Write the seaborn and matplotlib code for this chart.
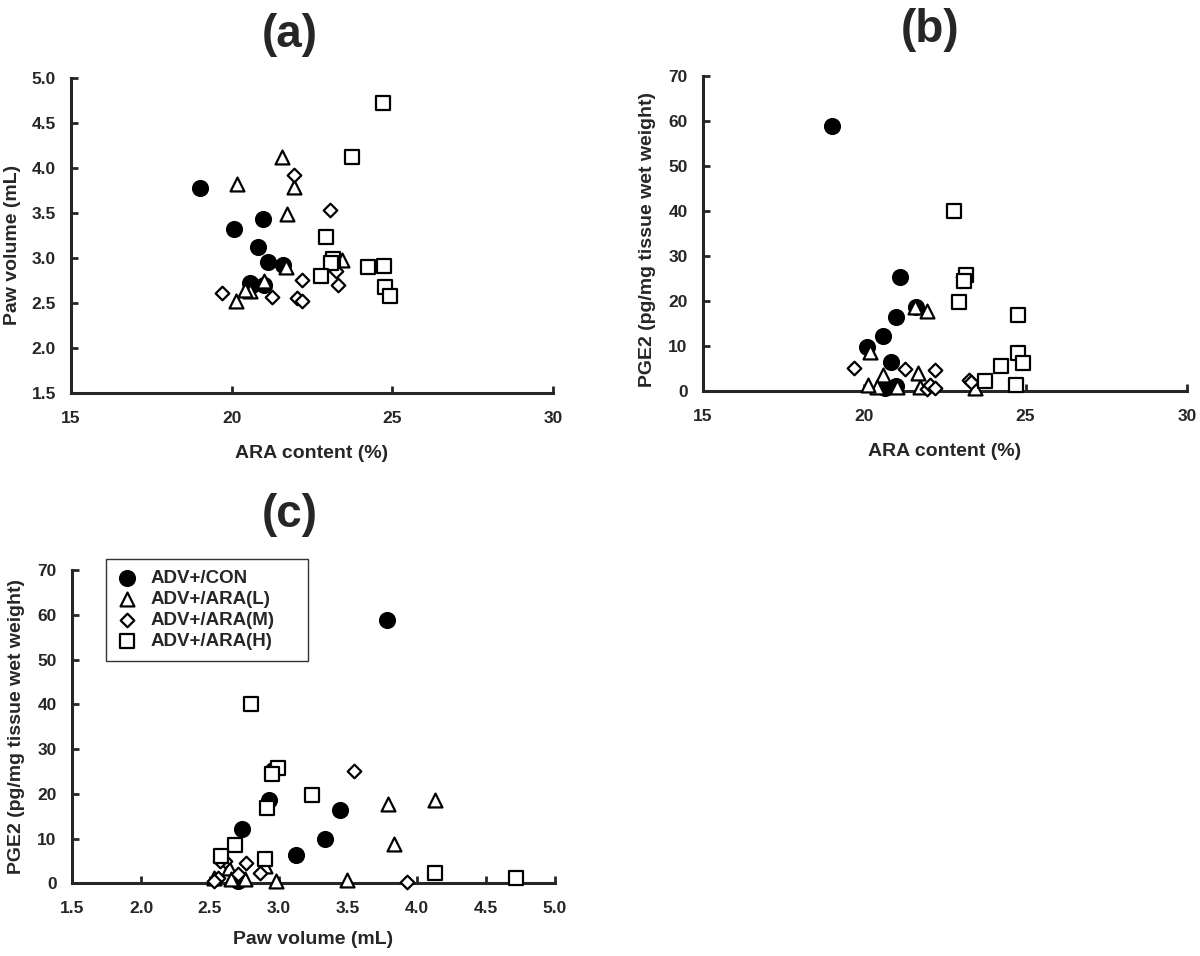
import numpy as np
import pandas as pd
import matplotlib
matplotlib.use("Agg")
import matplotlib.pyplot as plt
import seaborn as sns

# -----------------------------
# Data (one row per animal)
# -----------------------------

groups = ["ADV+/CON", "ADV+/ARA(L)", "ADV+/ARA(M)", "ADV+/ARA(H)"]

con_ara = [19.01, 20.07, 20.97, 20.83, 21.12, 21.59, 20.57, 20.64, 20.99]
con_paw = [3.78, 3.33, 3.44, 3.12, 2.96, 2.93, 2.73, 2.70, 2.70]
con_pge2 = [58.9, 9.8, 16.4, 6.4, 25.3, 18.7, 12.2, 0.5, 1.0]

low_ara = [21.58, 20.17, 21.95, 21.72, 23.44, 21.68, 21.02, 20.57, 20.40, 20.12]
low_paw = [4.13, 3.83, 3.79, 3.49, 2.98, 2.90, 2.75, 2.64, 2.65, 2.53]
low_pge2 = [18.7, 8.7, 17.8, 0.75, 0.5, 3.9, 0.9, 3.5, 0.9, 1.3]

mid_ara = [19.69, 21.26, 22.20, 21.93, 23.07, 23.25, 23.30, 22.03, 22.18]
mid_paw = [2.61, 2.57, 2.76, 3.93, 3.54, 2.86, 2.70, 2.56, 2.53]
mid_pge2 = [5.0, 4.9, 4.6, 0.3, 25.2, 2.4, 2.0, 1.3, 0.6]

high_ara = [24.70, 23.74, 22.93, 23.14, 23.10, 22.77, 24.25, 24.75, 24.77, 24.93]
high_paw = [4.72, 4.13, 3.24, 2.99, 2.95, 2.80, 2.90, 2.91, 2.68, 2.58]
high_pge2 = [1.3, 2.2, 19.8, 25.7, 24.5, 40.0, 5.5, 16.8, 8.5, 6.2]

frames = []
for g, a, p, e in zip(groups,
                      [con_ara, low_ara, mid_ara, high_ara],
                      [con_paw, low_paw, mid_paw, high_paw],
                      [con_pge2, low_pge2, mid_pge2, high_pge2]):
    frames.append(pd.DataFrame({"group": g, "ARA": a, "Paw": p, "PGE2": e}))
df = pd.concat(frames, ignore_index=True)

# marker style per group
styles = {
    "ADV+/CON": dict(marker="o", s=115, facecolor="black"),
    "ADV+/ARA(L)": dict(marker="^", s=100, facecolor="white"),
    "ADV+/ARA(M)": dict(marker="D", s=48, facecolor="white"),
    "ADV+/ARA(H)": dict(marker="s", s=100, facecolor="white"),
}

# -----------------------------
# Figure
# -----------------------------

sns.set_style("ticks")
plt.rcParams["font.family"] = ["Liberation Sans", "DejaVu Sans"]
plt.rcParams["font.weight"] = "bold"

fig = plt.figure(figsize=(12, 9.56), dpi=100)
ax_a = fig.add_axes([0.0592, 0.5886, 0.4017, 0.3295])
ax_b = fig.add_axes([0.5858, 0.5913, 0.4033, 0.3292])
ax_c = fig.add_axes([0.0600, 0.0760, 0.4025, 0.3277])

panels = [
    (ax_a, "ARA", "Paw", "ARA content (%)", "Paw volume (mL)"),
    (ax_b, "ARA", "PGE2", "ARA content (%)", "PGE2 (pg/mg tissue wet weight)"),
    (ax_c, "Paw", "PGE2", "Paw volume (mL)", "PGE2 (pg/mg tissue wet weight)"),
]

for ax, xcol, ycol, xlab, ylab in panels:
    for g in groups:
        st = styles[g]
        sns.scatterplot(data=df[df["group"] == g], x=xcol, y=ycol, ax=ax,
                        marker=st["marker"], s=st["s"], color=st["facecolor"],
                        facecolor=st["facecolor"], edgecolor="black",
                        linewidth=1.6, label=g, legend=False, clip_on=False,
                        zorder=3)
    ax.set_xlabel(xlab, fontsize=14, fontweight="bold")
    ax.set_ylabel(ylab, fontsize=14, fontweight="bold")
    sns.despine(ax=ax)
    for side in ["left", "bottom"]:
        ax.spines[side].set_linewidth(2.2)
    ax.tick_params(direction="in", length=5, width=2, labelsize=12.5)
    ax.tick_params(axis="x", pad=13)
    ax.tick_params(axis="y", pad=11)

# axis ranges
ax_a.set_xlim(15, 30)
ax_a.set_ylim(1.5, 5.0)
ax_a.set_xticks([15, 20, 25, 30])
ax_a.set_yticks(np.arange(1.5, 5.01, 0.5))
ax_a.set_yticklabels([f"{v:.1f}" for v in np.arange(1.5, 5.01, 0.5)])

ax_b.set_xlim(15, 30)
ax_b.set_ylim(0, 70)
ax_b.set_xticks([15, 20, 25, 30])
ax_b.set_yticks(range(0, 71, 10))

ax_c.set_xlim(1.5, 5.0)
ax_c.set_ylim(0, 70)
ax_c.set_xticks(np.arange(1.5, 5.01, 0.5))
ax_c.set_xticklabels([f"{v:.1f}" for v in np.arange(1.5, 5.01, 0.5)])
ax_c.set_yticks(range(0, 71, 10))

for ax in [ax_a, ax_b, ax_c]:
    for t in ax.get_xticklabels() + ax.get_yticklabels():
        t.set_fontweight("bold")

# label positions
ax_a.yaxis.set_label_coords(-0.104, 0.47)
ax_a.xaxis.set_label_coords(0.5, -0.164)
ax_b.yaxis.set_label_coords(-0.097, 0.48)
ax_b.xaxis.set_label_coords(0.5, -0.166)
ax_c.yaxis.set_label_coords(-0.097, 0.5)
ax_c.xaxis.set_label_coords(0.5, -0.152)

# panel letters
fig.text(290 / 1200, 1 - 35 / 956, "(a)", ha="center", va="center",
         fontsize=33, fontweight="bold")
fig.text(930 / 1200, 1 - 30 / 956, "(b)", ha="center", va="center",
         fontsize=33, fontweight="bold")
fig.text(290 / 1200, 1 - 515 / 956, "(c)", ha="center", va="center",
         fontsize=33, fontweight="bold")

# legend in panel (c)
leg = ax_c.legend(loc="upper left",
                  bbox_to_anchor=(106 / 1200, 1 - 664 / 956, 202 / 1200, 105 / 956),
                  bbox_transform=fig.transFigure, borderaxespad=0, mode="expand",
                  frameon=True, fancybox=False, edgecolor="black",
                  prop={"size": 13.5, "weight": "bold"}, handlelength=1.0,
                  handletextpad=0.8, labelspacing=0.2, borderpad=0.6,
                  scatterpoints=1)
leg.get_frame().set_linewidth(1.0)

fig.savefig("out.png", dpi=100, facecolor="white")
